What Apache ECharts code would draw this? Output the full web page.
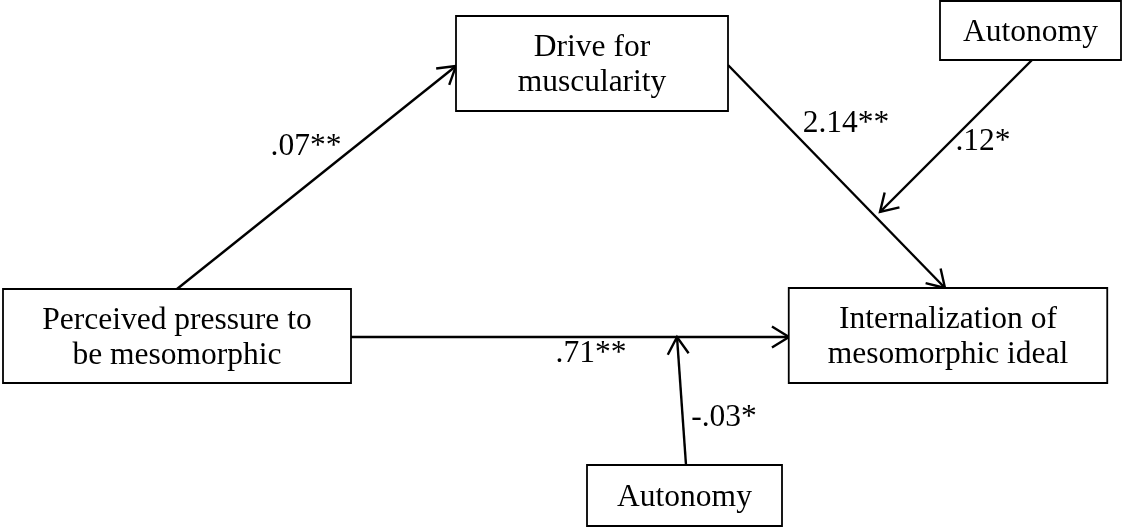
<!DOCTYPE html>
<html>
<head>
<meta charset="utf-8">
<script src="https://cdn.jsdelivr.net/npm/echarts@6/dist/echarts.min.js"></script>
<style>
  html, body { margin: 0; padding: 0; background: #fff; }
  #chart { width: 1124px; height: 527px; }
</style>
</head>
<body>
<div id="chart"></div>
<script>
// boxes: centre x, centre y, width, height (diagram units = pixels of the frame)
var boxLabels = ['Drive for\nmuscularity', 'Autonomy', 'Perceived pressure to\nbe mesomorphic', 'Internalization of\nmesomorphic ideal', 'Autonomy'];
var boxX = [592, 1030.5, 177, 948, 684.5];
var boxY = [63.5, 30.5, 336, 335.5, 495.5];
var boxW = [272, 181, 348, 318.5, 195];
var boxH = [95, 59, 94, 95, 61];

// paths: start and end point of each arrow
var pathFrom = [[177, 289], [728, 65], [1032, 60], [351, 337], [686, 465]];
var pathTo = [[456, 66], [945, 288], [880, 212], [789, 337], [677, 337]];
var coefLabels = ['.07**', '2.14**', '.12*', '.71**', '-.03*'];
var coefX = [306, 846, 983, 591, 724];
var coefY = [147, 124, 142, 354, 418];

var FONT = '31.5px "Liberation Serif", "Times New Roman", serif';

var chart = echarts.init(document.getElementById('chart'), null, { renderer: 'canvas' });

var boxData = boxX.map(function(x, i) { return [x, boxY[i], boxW[i], boxH[i]]; });
var pathData = pathFrom.map(function(p, i) { return [p[0], p[1], pathTo[i][0], pathTo[i][1]]; });
var coefData = coefX.map(function(x, i) { return [x, coefY[i]]; });

chart.setOption({
  animation: false,
  backgroundColor: '#fff',
  grid: { left: 0, right: 0, top: 0, bottom: 0 },
  xAxis: { type: 'value', min: 0, max: 1124, show: false },
  yAxis: { type: 'value', min: 0, max: 527, inverse: true, show: false },
  series: [
    {
      type: 'custom',
      name: 'paths',
      data: pathData,
      z: 1,
      renderItem: function(params, api) {
        var a = api.coord([api.value(0), api.value(1)]);
        var b = api.coord([api.value(2), api.value(3)]);
        var ang = Math.atan2(b[1] - a[1], b[0] - a[0]);
        var len = 20, spread = 0.55;
        var p1 = [b[0] - len * Math.cos(ang - spread), b[1] - len * Math.sin(ang - spread)];
        var p2 = [b[0] - len * Math.cos(ang + spread), b[1] - len * Math.sin(ang + spread)];
        return {
          type: 'group',
          children: [
            { type: 'line', shape: { x1: a[0], y1: a[1], x2: b[0], y2: b[1] },
              style: { stroke: '#000', lineWidth: 2.4 } },
            { type: 'polyline', shape: { points: [p1, b, p2] },
              style: { stroke: '#000', lineWidth: 2.4, fill: null } }
          ]
        };
      }
    },
    {
      type: 'custom',
      name: 'boxes',
      data: boxData,
      z: 2,
      renderItem: function(params, api) {
        var c = api.coord([api.value(0), api.value(1)]);
        var s = api.size([api.value(2), api.value(3)]);
        var w = Math.abs(s[0]), h = Math.abs(s[1]);
        return {
          type: 'group',
          children: [
            { type: 'rect', shape: { x: c[0] - w / 2, y: c[1] - h / 2, width: w, height: h },
              style: { fill: '#fff', stroke: '#000', lineWidth: 1.8 } },
            { type: 'text', x: c[0], y: c[1] + 2,
              style: { text: boxLabels[params.dataIndex], font: FONT, fill: '#000',
                align: 'center', verticalAlign: 'middle', lineHeight: 35 } }
          ]
        };
      }
    },
    {
      type: 'custom',
      name: 'coefficients',
      data: coefData,
      z: 3,
      renderItem: function(params, api) {
        var c = api.coord([api.value(0), api.value(1)]);
        return {
          type: 'text', x: c[0], y: c[1],
          style: { text: coefLabels[params.dataIndex], font: FONT, fill: '#000',
            align: 'center', verticalAlign: 'middle' }
        };
      }
    }
  ]
});
window.addEventListener('resize', function() { chart.resize(); });
</script>
</body>
</html>
